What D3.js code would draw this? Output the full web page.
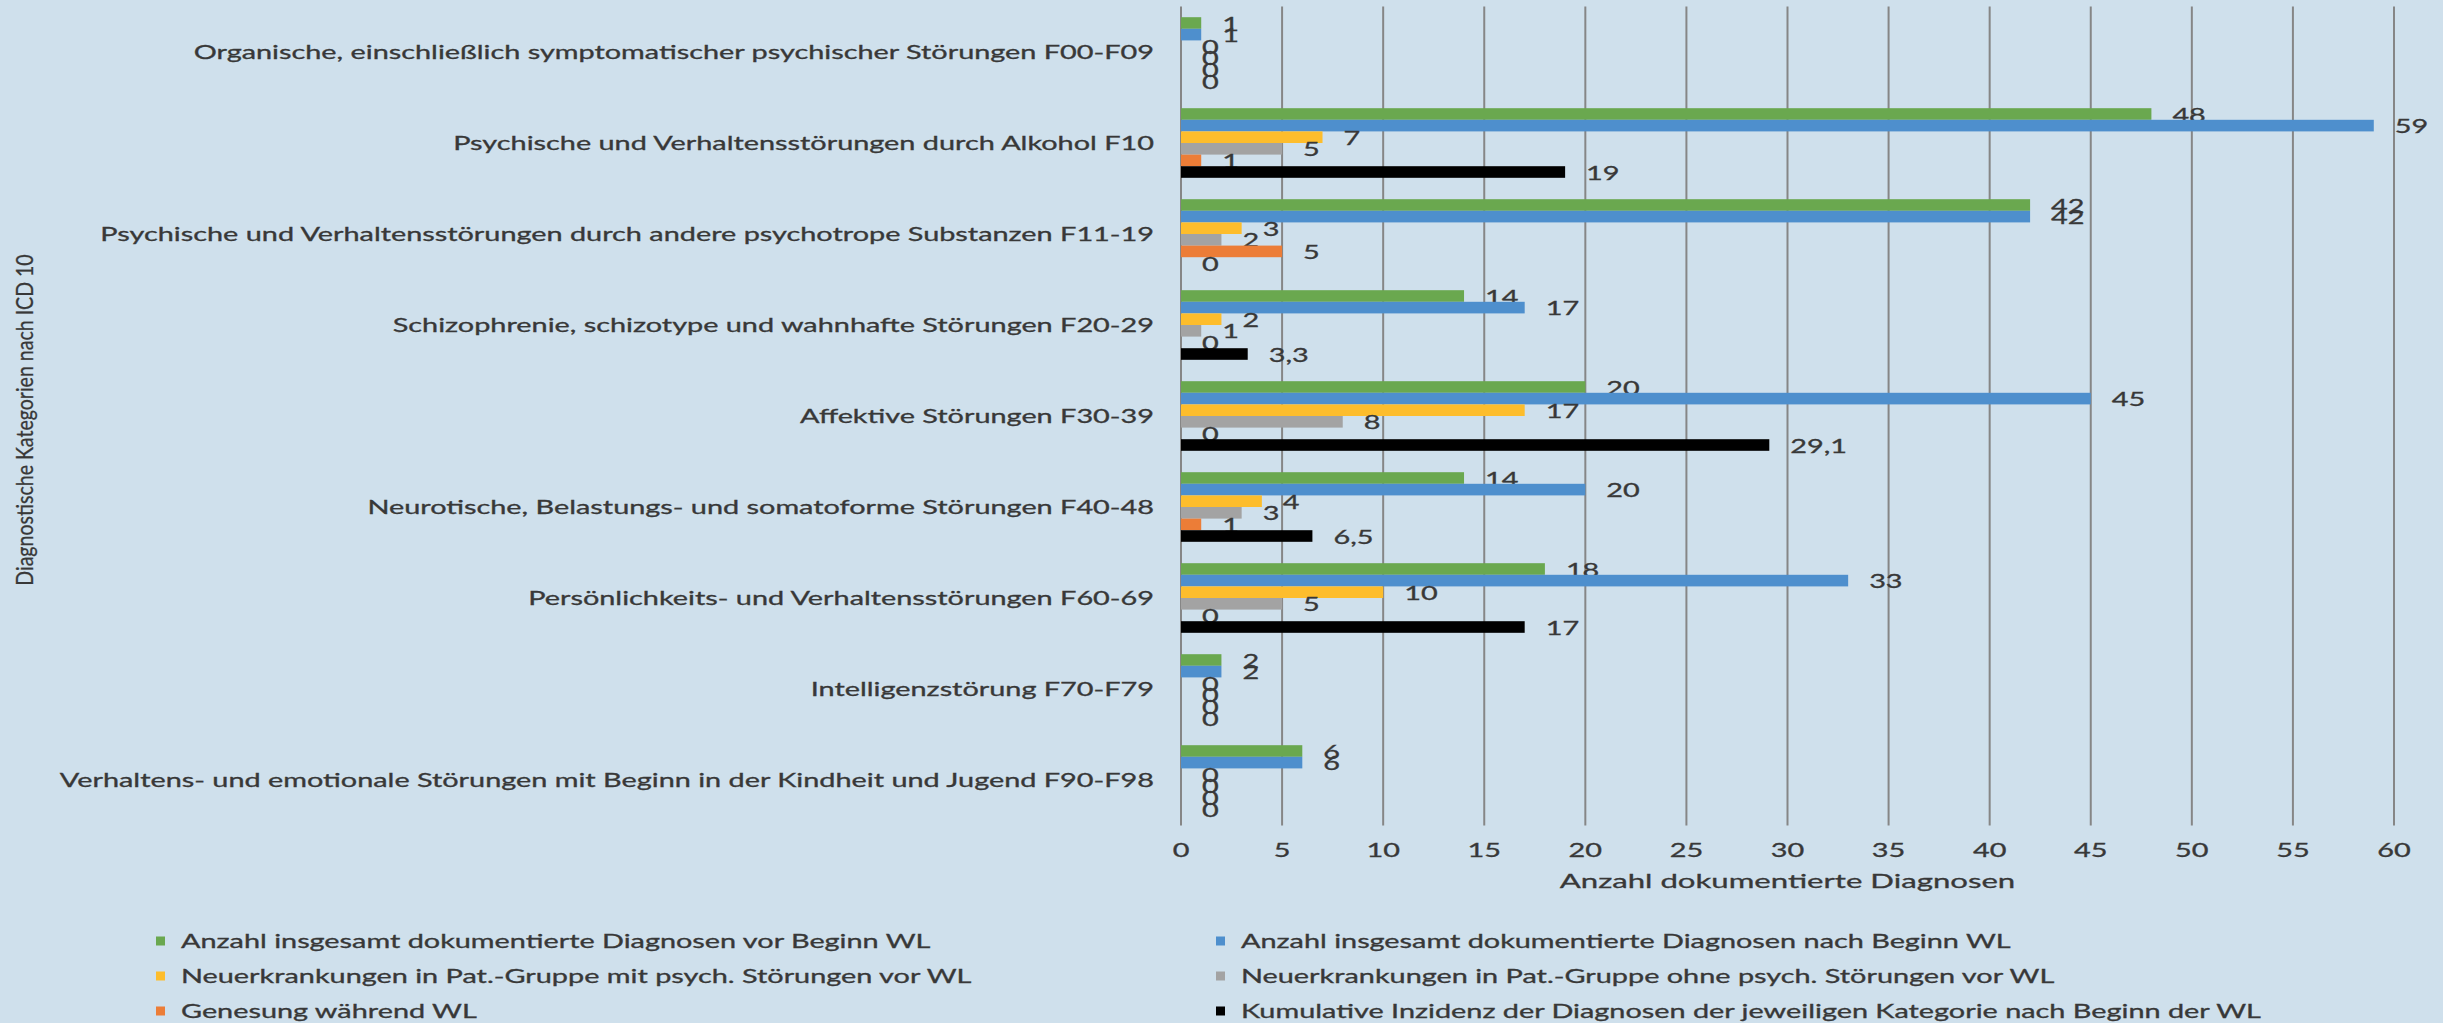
<!DOCTYPE html>
<html><head><meta charset="utf-8">
<script src="https://cdn.jsdelivr.net/npm/d3@7"></script>
<style>
html,body{margin:0;padding:0;background:#cfe0ec;}
svg{display:block;}
text{font-family:Lato,"Open Sans",sans-serif;}
</style>
</head><body>
<svg id="chart" width="2443" height="1023"></svg>
<script>
// ---------- data ----------
const categories = [
  "Organische, einschließlich symptomatischer psychischer Störungen F00-F09",
  "Psychische und Verhaltensstörungen durch Alkohol F10",
  "Psychische und Verhaltensstörungen durch andere psychotrope Substanzen F11-19",
  "Schizophrenie, schizotype und wahnhafte Störungen F20-29",
  "Affektive Störungen F30-39",
  "Neurotische, Belastungs- und somatoforme Störungen F40-48",
  "Persönlichkeits- und Verhaltensstörungen F60-69",
  "Intelligenzstörung F70-F79",
  "Verhaltens- und emotionale Störungen mit Beginn in der Kindheit und Jugend F90-F98"
];
const seriesNames = [
  "Anzahl insgesamt dokumentierte Diagnosen vor Beginn WL",
  "Anzahl insgesamt dokumentierte Diagnosen nach Beginn WL",
  "Neuerkrankungen in Pat.-Gruppe mit psych. Störungen vor WL",
  "Neuerkrankungen in Pat.-Gruppe ohne psych. Störungen vor WL",
  "Genesung während WL",
  "Kumulative Inzidenz der Diagnosen der jeweiligen Kategorie nach Beginn der WL"
];
const diagnosesBefore      = [1, 48, 42, 14, 20, 14, 18, 2, 6];
const diagnosesAfter       = [1, 59, 42, 17, 45, 20, 33, 2, 6];
const newWithPriorDisorder = [0, 7, 3, 2, 17, 4, 10, 0, 0];
const newWithoutPrior      = [0, 5, 2, 1, 8, 3, 5, 0, 0];
const recoveryDuringWL     = [0, 1, 5, 0, 0, 1, 0, 0, 0];
const cumulativeIncidence  = [0, 19, 0, 3.3, 29.1, 6.5, 17, 0, 0];
const xTickValues = [0, 5, 10, 15, 20, 25, 30, 35, 40, 45, 50, 55, 60];
const xAxisTitle = "Anzahl dokumentierte Diagnosen";
const yAxisTitle = "Diagnostische Kategorien nach ICD 10";

const seriesValues = [diagnosesBefore, diagnosesAfter, newWithPriorDisorder,
                      newWithoutPrior, recoveryDuringWL, cumulativeIncidence];
const seriesColors = ["#6aa84f", "#4e8fcd", "#fdbd2c", "#a3a3a3", "#ec7d37", "#000000"];

// ---------- layout ----------
const W = 2443, H = 1023;
const plot = {left: 1181, right: 2394, top: 6.5, bottom: 825.5};
const FS = 18.5;          // font size
const SX = 1.56;          // horizontal stretch of text (reference is stretched)
const textColor = "#383838";

const svg = d3.select("#chart");
svg.append("rect").attr("width", W).attr("height", H).attr("fill", "#cfe0ec");

const x = d3.scaleLinear().domain([0, 60]).range([plot.left, plot.right]);
const y0 = d3.scaleBand().domain(categories).range([plot.top, plot.bottom])
  .paddingInner(0.235).paddingOuter(0.1175);
const y1 = d3.scaleBand().domain(d3.range(seriesNames.length)).range([0, y0.bandwidth()]);

const deLocale = d3.formatLocale({decimal: ",", thousands: ".", grouping: [3], currency: ["", " €"]});
const fmt = v => Number.isInteger(v) ? String(v) : deLocale.format(".1f")(v);

function stretchedText(sel, sx) {
  return sel.attr("transform", d => `translate(${d._x},${d._y}) scale(${sx},1)`);
}
function styleText(sel, size) {
  return sel.attr("font-size", size).attr("fill", textColor)
    .attr("stroke", textColor).attr("stroke-width", 0.3);
}

// gridlines
svg.append("g").selectAll("line").data(xTickValues).join("line")
  .attr("x1", d => x(d)).attr("x2", d => x(d))
  .attr("y1", plot.top).attr("y2", plot.bottom)
  .attr("stroke", "#868686").attr("stroke-width", 2);

// x tick labels
svg.append("g").selectAll("text").data(xTickValues.map(v => ({v, _x: x(v), _y: 850})))
  .join("text")
  .call(stretchedText, SX)
  .attr("text-anchor", "middle").attr("dy", "0.36em")
  .call(styleText, FS)
  .text(d => d.v);

// x axis title
svg.append("text")
  .datum({_x: (plot.left + plot.right) / 2, _y: 881})
  .call(stretchedText, SX)
  .attr("text-anchor", "middle").attr("dy", "0.36em")
  .call(styleText, FS * 1.08)
  .text(xAxisTitle);

// y axis title (rotated)
svg.append("text")
  .attr("transform", `translate(33,${(plot.top + plot.bottom) / 2 + 4}) rotate(-90) scale(0.85,1)`)
  .attr("text-anchor", "middle")
  .call(styleText, 23)
  .text(yAxisTitle);

// category labels
svg.append("g").selectAll("text")
  .data(categories.map(c => ({c, _x: 1154, _y: y0(c) + y0.bandwidth() / 2})))
  .join("text")
  .call(stretchedText, SX)
  .attr("text-anchor", "end").attr("dy", "0.36em")
  .call(styleText, FS)
  .text(d => d.c);

// bars + labels, series by series (later bars cover earlier labels)
seriesValues.forEach((vals, si) => {
  const g = svg.append("g");
  const rows = vals.map((v, ci) => ({v, c: categories[ci]}));
  g.selectAll("rect").data(rows).join("rect")
    .attr("x", x(0))
    .attr("y", d => y0(d.c) + y1(si))
    .attr("width", d => x(d.v) - x(0))
    .attr("height", y1.bandwidth())
    .attr("fill", seriesColors[si]);
  g.selectAll("text")
    .data(rows.map(d => ({...d, _x: x(d.v) + 21, _y: y0(d.c) + y1(si) + y1.bandwidth() / 2 + 1})))
    .join("text")
    .call(stretchedText, SX)
    .attr("dy", "0.36em")
    .call(styleText, FS)
    .text(d => fmt(d.v));
});

// legend
const legendCol = d3.scalePoint().domain([0, 1]).range([156, 1216]);
const legendRow = d3.scalePoint().domain([0, 1, 2]).range([941, 1011]);
const lg = svg.append("g").selectAll("g")
  .data(seriesNames.map((n, i) => ({n, i, col: i % 2, row: Math.floor(i / 2)})))
  .join("g")
  .attr("transform", d => `translate(${legendCol(d.col)},${legendRow(d.row)})`);
lg.append("rect").attr("x", 0).attr("y", -4.5).attr("width", 9).attr("height", 9)
  .attr("fill", d => seriesColors[d.i]);
lg.append("text")
  .attr("transform", `translate(25,0) scale(${SX},1)`)
  .attr("dy", "0.36em")
  .call(styleText, FS)
  .text(d => d.n);
</script>
</body></html>
